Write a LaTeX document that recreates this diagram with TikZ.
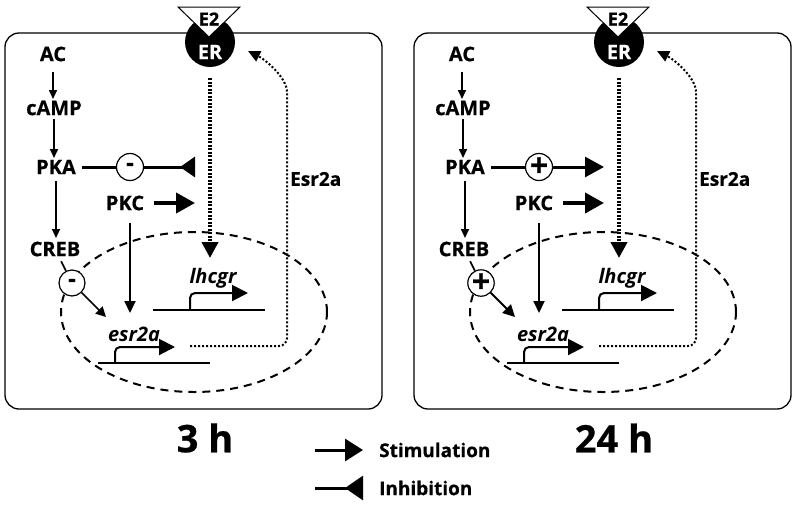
\documentclass[tikz,border=0pt]{standalone}
\usepackage{fontspec}
\setmainfont{Open Sans}[BoldFeatures={FakeBold=0.6}]
\usetikzlibrary{arrows.meta}
\newcommand{\fsz}[1]{\fontsize{#1}{#1}\selectfont}

\tikzset{
  lbl/.style={font=\fsz{20}\bfseries,inner sep=2pt},
  genelbl/.style={font=\fsz{20}\bfseries\itshape,inner sep=0pt},
  cellbox/.style={line width=1.3pt,rounded corners=14pt},
  nucleus/.style={line width=2pt,dash pattern=on 8pt off 6pt},
  smallarr/.style={line width=1.6pt,-{Triangle[length=9pt,width=8pt]}},
  bigarr/.style={line width=4pt,-{Triangle[length=19pt,width=20pt]}},
  blockarr/.style={line width=3pt,-{Triangle[reversed,length=15pt,width=20pt]}},
  signnode/.style={circle,draw,line width=1.2pt,fill=white,minimum size=27pt,inner sep=0pt,font=\fsz{24}\bfseries},
  erline/.style={line width=4pt,dash pattern=on 2pt off 1.5pt,-{Triangle[length=16pt,width=16pt]}},
  esrline/.style={line width=2pt,dash pattern=on 2pt off 2pt,rounded corners=8pt,-{Triangle[length=12pt,width=11pt]}},
  promoter/.style={line width=2pt,rounded corners=5pt,-{Triangle[length=16pt,width=16pt]}},
  dna/.style={line width=2pt}
}

\begin{document}
\begin{tikzpicture}[x=1pt,y=-1pt]
\useasboundingbox (0,0) rectangle (797,509);

\foreach \dx/\hr/\sgn in {0/3 h/{\fsz{24}-},409/24 h/{\fsz{32}+}}{
\begin{scope}[xshift=\dx pt]
  \draw[cellbox] (5,33) rectangle (382,409);
  \draw[nucleus] (194,312) ellipse [x radius=133pt,y radius=80pt];

  % genes
  \draw[dna] (153,310) -- (265,310);
  \draw[promoter] (190,310) -- (190,293) -- (248,293);
  \draw[dna] (98,363) -- (210,363);
  \draw[promoter] (115,363) -- (115,347) -- (175,347);
  \node[genelbl] (lhcgr) at (213,278) {lhcgr};
  \node[genelbl] (esr) at (134,334) {esr2a};

  % receptor
  \node[circle,fill=black,minimum size=50pt,inner sep=0pt] (er) at (210,42) {};
  \draw[fill=white,line width=1pt] (178,7) -- (240,7) -- (209,37) -- cycle;
  \node[lbl,font=\fsz{18}\bfseries] (e2) at (209,19) {E2};
  \node[lbl,text=white] (ertxt) at (210,52) {ER};

  % cascade
  \node[lbl] (ac) at (53,54) {AC};
  \node[lbl] (camp) at (54,108) {cAMP};
  \node[lbl] (pka) at (56,167) {PKA};
  \node[lbl] (creb) at (55,249) {CREB};
  \node[lbl] (pkc) at (125,203) {PKC};
  \draw[smallarr,shorten <=8pt,shorten >=9pt] (ac) -- (ac |- camp);
  \draw[smallarr,shorten <=2pt,shorten >=9pt] (camp) -- (camp |- pka);
  \draw[smallarr,shorten <=5pt,shorten >=11pt] (pka) -- (pka |- creb);

  \coordinate (pkaend) at (195,167);
  \coordinate (pkcend) at (195,203);
  \coordinate (pkcdown) at (130,313);
  \coordinate (crebend) at (106,317);
  \node[signnode] (signpka) at (130,167) {\sgn};
  \node[signnode,minimum size=26pt] (signcreb) at (72,283) {\sgn};
  \draw[line width=3pt,shorten <=4pt] (pka) -- (signpka);
  \ifnum\dx=0
    \draw[blockarr] (signpka) -- (pkaend);
    \draw[line width=1.6pt,-{Triangle[length=10pt,width=10pt]}] (signcreb) -- (crebend);
  \else
    \draw[bigarr,line width=3pt] (signpka) -- (pkaend);
    \draw[line width=1.8pt,-{Triangle[length=12pt,width=12pt]}] (signcreb) -- (crebend);
  \fi
  \draw[line width=1.6pt,shorten <=3pt] (creb) -- (signcreb);
  \draw[bigarr,shorten <=8pt] (pkc) -- (pkcend);
  \draw[line width=2pt,-{Triangle[length=12pt,width=11pt]},shorten <=10pt] (pkc.south -| pkcdown) -- (pkcdown);

  % feedback
  \coordinate (ertgt) at (210,258);
  \draw[erline,shorten <=11pt] (er) -- (ertgt);
  \coordinate (esrfrom) at (190,346);
  \coordinate (esrto) at (248,51);
  \draw[esrline] (esrfrom) -- (287,346) -- (287,100) .. controls (287,78) and (266,60) .. (esrto);
  \node[lbl,font=\fsz{19}\bfseries,anchor=west] (esrlbl) at (288,179) {Esr2a};

  \node[font=\fsz{38}\bfseries] (time) at (205,438) {\hr};
\end{scope}}

% legend
\coordinate (stima) at (315,450);
\coordinate (stimb) at (363,450);
\coordinate (inha) at (315,488);
\coordinate (inhb) at (363,488);
\draw[line width=3pt,-{Triangle[length=18pt,width=22pt]}] (stima) -- (stimb);
\draw[line width=3pt,-{Triangle[reversed,length=18pt,width=24pt]}] (inha) -- (inhb);
\node[lbl,font=\fsz{19}\bfseries,anchor=west] (stimtxt) at (377,450) {Stimulation};
\node[lbl,font=\fsz{19}\bfseries,anchor=west] (inhtxt) at (377,488) {Inhibition};
\end{tikzpicture}
\end{document}
